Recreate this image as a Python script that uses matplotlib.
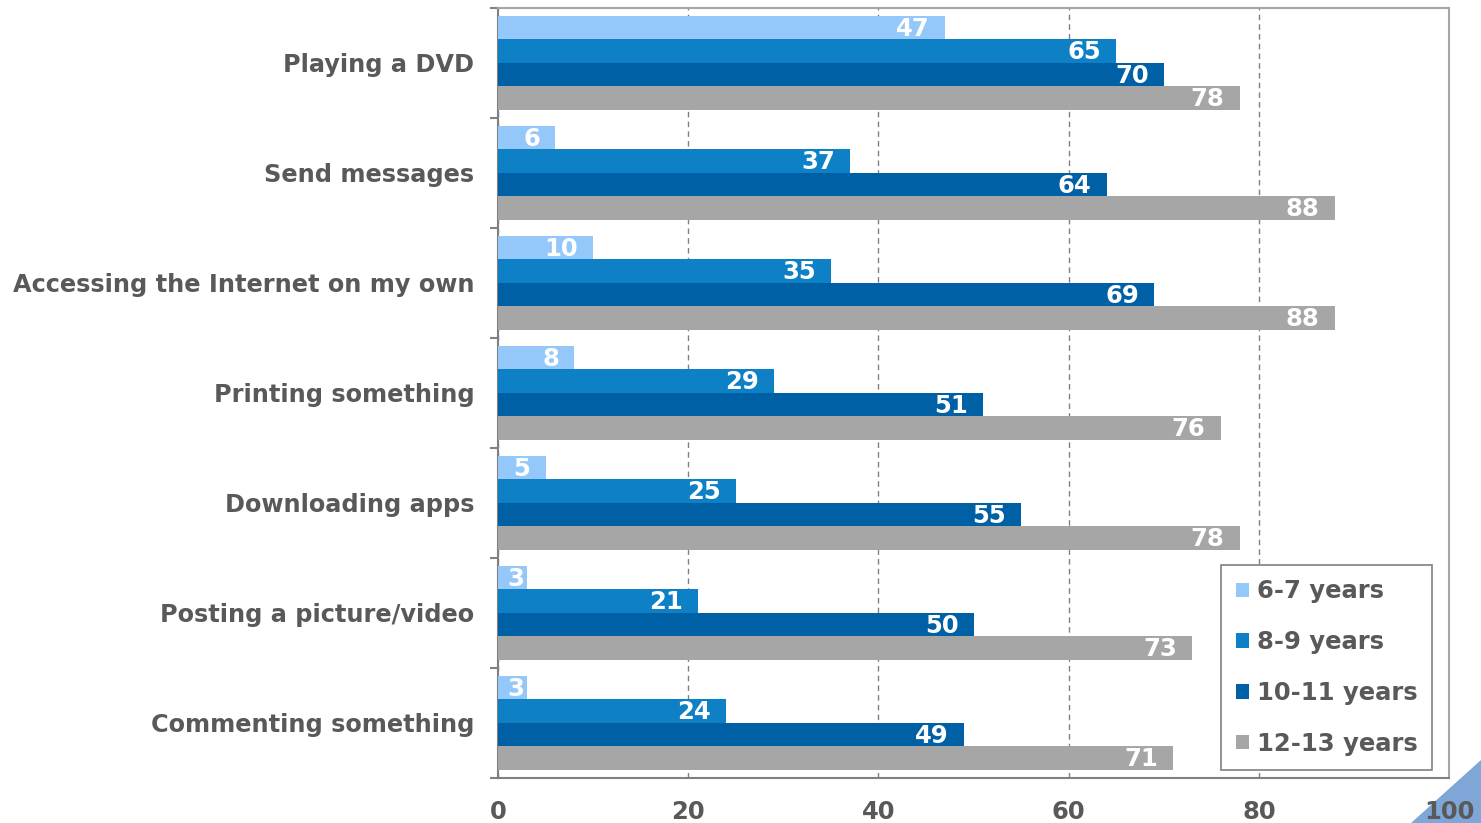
import matplotlib.pyplot as plt
import matplotlib.patches as mpatches
import numpy as np

# Data
activities = ['Playing a DVD', 'Send messages', 'Accessing the Internet on my own',
              'Printing something', 'Downloading apps', 'Posting a picture/video',
              'Commenting something']
age_groups = ['6-7 years', '8-9 years', '10-11 years', '12-13 years']
age_6_7 = [47, 6, 10, 8, 5, 3, 3]
age_8_9 = [65, 37, 35, 29, 25, 21, 24]
age_10_11 = [70, 64, 69, 51, 55, 50, 49]
age_12_13 = [78, 88, 88, 76, 78, 73, 71]
x_ticks = [0, 20, 40, 60, 80, 100]

colors = ['#95C8FA', '#0D80C6', '#0060A5', '#A6A6A6']
text_color = '#595959'

fig = plt.figure(figsize=(14.81, 8.23), dpi=100)
ax = fig.add_axes([0.3363, 0.0547, 0.6421, 0.9356])

series = [age_6_7, age_8_9, age_10_11, age_12_13]
n = len(activities)
y = np.arange(n)
bar_h = 0.2136

for i, (vals, col, lab) in enumerate(zip(series, colors, age_groups)):
    offset = (i - 1.5) * bar_h
    bars = ax.barh(y + offset, vals, height=bar_h, color=col, label=lab, zorder=3)
    for b, v in zip(bars, vals):
        yc = b.get_y() + b.get_height() / 2 + 0.01
        if v < 4:
            # too short for inside-end: keep the label inside the bar start
            ax.text(1.0, yc, str(v), ha='left', va='center', color='white',
                    fontsize=17.5, fontweight='bold', zorder=4)
        else:
            ax.text(v - 1.6, yc, str(v), ha='right', va='center', color='white',
                    fontsize=17.5, fontweight='bold', zorder=4)

ax.set_xlim(0, 100)
ax.set_ylim(n - 0.5, -0.5)
ax.set_xticks(x_ticks)
ax.set_xticklabels([str(t) for t in x_ticks], fontsize=17.5, fontweight='bold', color=text_color)
ax.set_yticks(y)
ax.set_yticklabels(activities, fontsize=17.3, fontweight='bold', color=text_color)
ax.tick_params(axis='y', length=0, pad=17)
ax.tick_params(axis='x', length=0, pad=16)

# category boundary ticks on the y axis
ax.set_yticks(np.arange(n + 1) - 0.5, minor=True)
ax.tick_params(axis='y', which='minor', length=6, color='#808080', width=1.5, direction='out')
ax.set_xticks(x_ticks, minor=True)
ax.tick_params(axis='x', which='minor', length=8, color='#808080', width=1.5, direction='inout')

ax.grid(axis='x', linestyle=(0, (4, 3)), color='#808080', linewidth=1, zorder=0)
for s in ['top', 'right']:
    ax.spines[s].set_color('#A6A6A6')
    ax.spines[s].set_linewidth(1.5)
for s in ['left', 'bottom']:
    ax.spines[s].set_color('#808080')
    ax.spines[s].set_linewidth(1.5)

leg = ax.legend(loc='lower right', bbox_to_anchor=(0.982, 0.010),
                prop={'weight': 'bold', 'size': 17.5}, handlelength=0.55, handleheight=0.55,
                handletextpad=0.3, labelspacing=1.1, borderpad=0.6, borderaxespad=0,
                fancybox=False, edgecolor='#808080', framealpha=1)
for t in leg.get_texts():
    t.set_color(text_color)
leg.get_frame().set_linewidth(1.2)

# decorative corner triangle
tri = mpatches.Polygon([(0.953, 0.0), (1.0, 0.0), (1.0, 0.077)], closed=True,
                       transform=fig.transFigure, color='#7EA6D6', zorder=-1)
fig.patches.append(tri)
ax.set_zorder(2)

fig.savefig('out.png', dpi=100)
